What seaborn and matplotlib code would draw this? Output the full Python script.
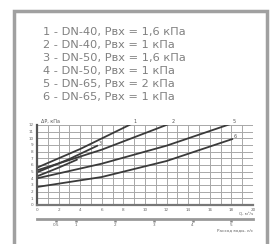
import matplotlib
matplotlib.use('Agg')
import matplotlib.pyplot as plt
import matplotlib.patches as patches
import seaborn as sns
import pandas as pd

# flow, m3/h  and pressure loss, kPa
x1 = [0, 4, 8.8]
y1 = [5.6, 8.4, 12.2]
x2 = [0, 6, 12.3]
y2 = [5.2, 8.3, 12.2]
x3 = [0, 3, 5.6]
y3 = [4.9, 6.9, 8.9]
x4 = [0, 2, 3.7]
y4 = [4.3, 5.6, 6.8]
x5 = [0, 6, 12, 18.0]
y5 = [4.0, 6.2, 8.9, 12.2]
x6 = [0, 6, 12, 18.1]
y6 = [2.7, 4.2, 6.6, 9.9]

legend_lines = ['1 - DN-40, Рвх = 1,6 кПа',
                '2 - DN-40, Рвх = 1 кПа',
                '3 - DN-50, Рвх = 1,6 кПа',
                '4 - DN-50, Рвх = 1 кПа',
                '5 - DN-65, Рвх = 2 кПа',
                '6 - DN-65, Рвх = 1 кПа']
ls_ticks = [0.5, 1, 2, 3, 4, 5]

sns.set_style('white')
plt.rcParams['font.family'] = ['DejaVu Sans']

fig = plt.figure(figsize=(2.75, 2.44), dpi=100)
fig.patches.append(patches.Rectangle((14/275, -0.1), 253/275, 1.1 - 11/244,
                                     transform=fig.transFigure, fill=False,
                                     edgecolor='#a0a0a0', linewidth=2.5))

for i, t in enumerate(legend_lines):
    fig.text(43/275, 1 - (32 + i*13)/244, t, fontsize=8.2, color='#808080',
             va='center', ha='left')

ax = fig.add_axes([37/275, 1 - 205/244, 216/275, 80/244])
series = [(x1, y1), (x2, y2), (x3, y3), (x4, y4), (x5, y5), (x6, y6)]
for n, (xs, ys) in enumerate(series, start=1):
    df = pd.DataFrame({'Q': xs, 'dP': ys})
    sns.lineplot(data=df, x='Q', y='dP', ax=ax, color='#3a3a3a', linewidth=1.3)
    ax.text(xs[-1] + 0.15, ys[-1] + 0.1, str(n), fontsize=3.5, color='#555555')

ax.set_xlim(0, 20)
ax.set_ylim(0, 12)
ax.set_xticks(range(0, 21))
ax.set_yticks(range(0, 13))
ax.grid(True, color='#a8a8a8', linewidth=0.7)
ax.set_xticklabels([str(v) if v % 2 == 0 else '' for v in range(0, 21)],
                   fontsize=3, color='#666666')
ax.set_yticklabels([str(v) for v in range(0, 13)], fontsize=3, color='#666666')
ax.tick_params(length=0, pad=2.5)
ax.set_xlabel('')
ax.set_ylabel('')
for s in ['top', 'right']:
    ax.spines[s].set_visible(False)
ax.spines['left'].set_color('#555555')
ax.spines['left'].set_linewidth(1.6)
ax.spines['bottom'].set_color('#777777')
ax.spines['bottom'].set_linewidth(1.6)
ax.text(0.4, 12.4, 'ΔP, кПа', fontsize=3.5, color='#555555')
ax.text(20, -1.6, 'Q, м³/ч', fontsize=3, color='#666666', ha='right')

sec = ax.secondary_xaxis(-0.17, functions=(lambda q: q / 3.6, lambda v: v * 3.6))
sec.set_xticks(ls_ticks)
sec.set_xticklabels([str(v) for v in ls_ticks], fontsize=3, color='#666666')
sec.tick_params(length=2.5, width=1.8, color='#888888', pad=1)
sec.spines['bottom'].set_color('#999999')
sec.spines['bottom'].set_linewidth(2)
ax.text(20, -3.9, 'Расход воды, л/с', fontsize=3, color='#666666', ha='right')

fig.savefig('out.png', dpi=100)
